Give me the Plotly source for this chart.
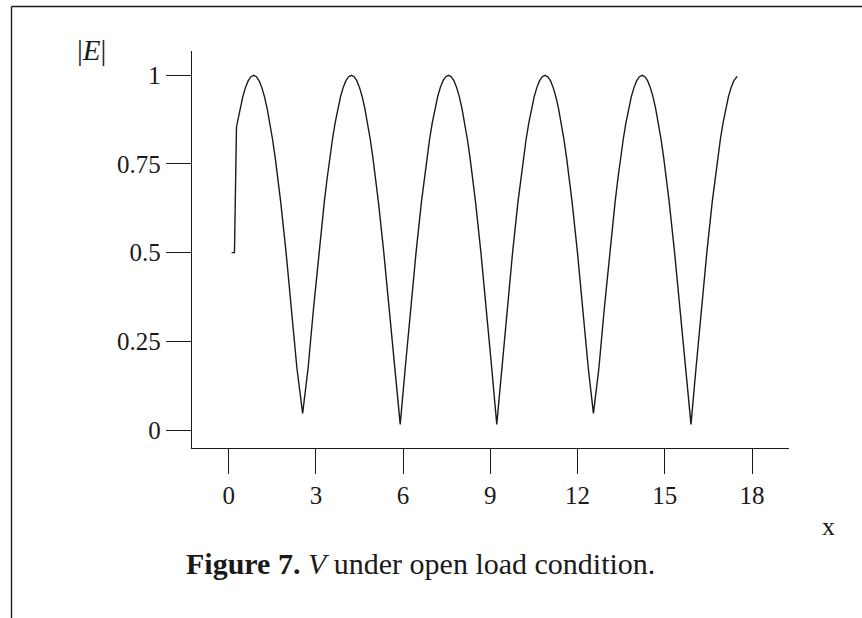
import plotly.graph_objects as go

# |E| along x
x_vals = [0.1, 0.2, 0.27, 0.395, 0.488, 0.581, 0.674, 0.767, 0.86,
          0.953, 1.046, 1.139, 1.232, 1.325, 1.418, 1.511, 1.604, 1.697, 1.79,
          1.976, 2.162, 2.348, 2.545,
          2.732, 2.918, 3.104, 3.29, 3.383, 3.476, 3.569, 3.662, 3.755, 3.848,
          3.941, 4.034, 4.127, 4.22, 4.313, 4.406, 4.499, 4.592, 4.685, 4.778,
          4.871, 4.964, 5.057, 5.15, 5.336, 5.522, 5.708, 5.90,
          6.072, 6.258, 6.444, 6.63, 6.723, 6.816, 6.909, 7.002, 7.095, 7.188,
          7.281, 7.374, 7.467, 7.56, 7.653, 7.746, 7.839, 7.932, 8.025, 8.118,
          8.211, 8.304, 8.397, 8.49, 8.676, 8.862, 9.048, 9.22,
          9.392, 9.578, 9.764, 9.95, 10.043, 10.136, 10.229, 10.322, 10.415, 10.508,
          10.601, 10.694, 10.787, 10.88, 10.973, 11.066, 11.159, 11.252, 11.345, 11.438,
          11.531, 11.624, 11.717, 11.81, 11.996, 12.182, 12.368, 12.545,
          12.732, 12.918, 13.104, 13.29, 13.383, 13.476, 13.569, 13.662, 13.755, 13.848,
          13.941, 14.034, 14.127, 14.22, 14.313, 14.406, 14.499, 14.592, 14.685, 14.778,
          14.871, 14.964, 15.057, 15.15, 15.336, 15.522, 15.708, 15.90,
          16.072, 16.258, 16.444, 16.63, 16.723, 16.816, 16.909, 17.002, 17.095, 17.188,
          17.281, 17.374, 17.49]
e_vals = [0.5, 0.5, 0.855, 0.906, 0.94, 0.966, 0.985, 0.996, 1.0,
          0.996, 0.985, 0.966, 0.94, 0.906, 0.866, 0.819, 0.766, 0.707, 0.643,
          0.5, 0.342, 0.174, 0.047,
          0.174, 0.342, 0.5, 0.643, 0.707, 0.766, 0.819, 0.866, 0.906, 0.94,
          0.966, 0.985, 0.996, 1.0, 0.996, 0.985, 0.966, 0.94, 0.906, 0.866,
          0.819, 0.766, 0.707, 0.643, 0.5, 0.342, 0.174, 0.016,
          0.174, 0.342, 0.5, 0.643, 0.707, 0.766, 0.819, 0.866, 0.906, 0.94,
          0.966, 0.985, 0.996, 1.0, 0.996, 0.985, 0.966, 0.94, 0.906, 0.866,
          0.819, 0.766, 0.707, 0.643, 0.5, 0.342, 0.174, 0.016,
          0.174, 0.342, 0.5, 0.643, 0.707, 0.766, 0.819, 0.866, 0.906, 0.94,
          0.966, 0.985, 0.996, 1.0, 0.996, 0.985, 0.966, 0.94, 0.906, 0.866,
          0.819, 0.766, 0.707, 0.643, 0.5, 0.342, 0.174, 0.047,
          0.174, 0.342, 0.5, 0.643, 0.707, 0.766, 0.819, 0.866, 0.906, 0.94,
          0.966, 0.985, 0.996, 1.0, 0.996, 0.985, 0.966, 0.94, 0.906, 0.866,
          0.819, 0.766, 0.707, 0.643, 0.5, 0.342, 0.174, 0.016,
          0.174, 0.342, 0.5, 0.643, 0.707, 0.766, 0.819, 0.866, 0.906, 0.94,
          0.966, 0.985, 0.997]

x_ticks = [0, 3, 6, 9, 12, 15, 18]
x_tick_labels = ["0", "3", "6", "9", "12", "15", "18"]
y_ticks = [0, 0.25, 0.5, 0.75, 1]
y_tick_labels = ["0", "0.25", "0.5", "0.75", "1"]

FONT = "Liberation Serif"
INK = "#1a1a1a"

fig = go.Figure()
fig.add_trace(go.Scatter(x=x_vals, y=e_vals, mode="lines",
                         line=dict(color=INK, width=1.4), showlegend=False,
                         hoverinfo="skip"))

W, H = 862, 618
L, R, T, B = 192, 73, 51, 170
pw, ph = W - L - R, H - T - B

def px(xp):
    return (xp - L) / pw

def py(yp):
    return (H - B - yp) / ph

fig.update_layout(
    width=W, height=H,
    margin=dict(l=L, r=R, t=T, b=B, pad=0),
    paper_bgcolor="white", plot_bgcolor="white",
    font=dict(family=FONT, size=25, color=INK),
    xaxis=dict(range=[-1.26, 19.27], tickvals=x_ticks, ticktext=x_tick_labels,
               showgrid=False, zeroline=False, showline=True, linecolor=INK,
               linewidth=1.3, ticks="outside", ticklen=25, tickwidth=1.1,
               tickcolor=INK, tickfont=dict(family=FONT, size=25, color=INK)),
    yaxis=dict(range=[-0.0507, 1.0685], tickvals=y_ticks, ticktext=y_tick_labels,
               showgrid=False, zeroline=False, showline=True, linecolor=INK,
               linewidth=1.3, ticks="outside", ticklen=25, tickwidth=1.1,
               tickcolor=INK, tickfont=dict(family=FONT, size=25, color=INK)),
    shapes=[
        dict(type="line", xref="paper", yref="paper", x0=px(11.5), x1=px(W + 5),
             y0=py(6.5), y1=py(6.5), line=dict(color=INK, width=1.4)),
        dict(type="line", xref="paper", yref="paper", x0=px(11.5), x1=px(11.5),
             y0=py(6.5), y1=py(H + 5), line=dict(color=INK, width=1.4)),
    ],
    annotations=[
        dict(text="|<i>E</i>|", xref="paper", yref="paper", x=px(92), y=py(50),
             showarrow=False, xanchor="center", yanchor="middle",
             font=dict(family=FONT, size=29, color=INK)),
        dict(text="x", xref="paper", yref="paper", x=px(828), y=py(526),
             showarrow=False, xanchor="center", yanchor="middle",
             font=dict(family=FONT, size=26, color=INK)),
        dict(text="<b>Figure 7.</b> <i>V</i> under open load condition.",
             xref="paper", yref="paper", x=px(420), y=py(563),
             showarrow=False, xanchor="center", yanchor="middle",
             font=dict(family=FONT, size=30, color=INK)),
    ],
)

fig.write_html("out.html",
               config={"displayModeBar": False},
               post_script="document.body.style.margin='0px';"
                           "document.body.style.padding='0px';")
